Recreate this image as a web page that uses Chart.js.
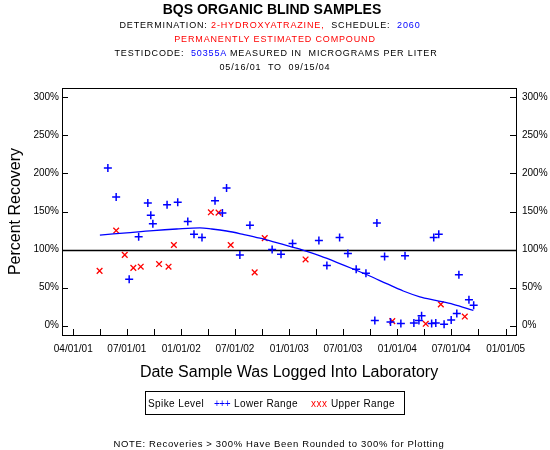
<!DOCTYPE html>
<html>
<head>
<meta charset="utf-8">
<script src="https://cdn.jsdelivr.net/npm/chart.js@4/dist/chart.umd.min.js"></script>
<style>
  body { margin: 0; background: #fff; }
  #wrap { position: relative; width: 550px; height: 450px; font-family: "Liberation Sans", Arial, sans-serif; color: #000; }
  canvas { position: absolute; left: 0; top: 0; }
  .t { position: absolute; white-space: pre; line-height: 1; }
  .c { left: 0; width: 550px; text-align: center; }
  .h { font-size: 9px; letter-spacing: 0.85px; }
  .red { color: #ff0000; }
  .blue { color: #0000ff; }
  #legend { position: absolute; left: 145px; top: 391px; width: 260px; height: 24px; border: 1px solid #000; box-sizing: border-box; }
</style>
</head>
<body>
<div id="wrap">
  <canvas id="chart" width="550" height="450"></canvas>
  <div class="t c" style="top:2px;margin-left:-3px;font-size:14px;font-weight:bold;">BQS ORGANIC BLIND SAMPLES</div>
  <div class="t c h" style="top:21px;margin-left:-5px;">DETERMINATION: <span class="red">2-HYDROXYATRAZINE,</span>  SCHEDULE:  <span class="blue">2060</span></div>
  <div class="t c h red" style="top:35px;margin-left:0px;">PERMANENTLY ESTIMATED COMPOUND</div>
  <div class="t c h" style="top:49px;margin-left:1px;">TESTIDCODE:  <span class="blue">50355A</span> MEASURED IN  MICROGRAMS PER LITER</div>
  <div class="t c h" style="top:63px;margin-left:0px;">05/16/01  TO  09/15/04</div>
  <div id="legend"></div>
  <div class="t" style="left:148px;top:399px;font-size:10px;letter-spacing:0.4px;">Spike Level</div>
  <div class="t blue" style="left:214px;top:399px;font-size:10px;letter-spacing:-0.5px;">+++</div>
  <div class="t" style="left:234px;top:399px;font-size:10px;letter-spacing:0.4px;">Lower Range</div>
  <div class="t red" style="left:311px;top:399px;font-size:10px;letter-spacing:0.5px;">xxx</div>
  <div class="t" style="left:331px;top:399px;font-size:10px;letter-spacing:0.4px;">Upper Range</div>
  <div class="t c" style="top:439px;margin-left:4px;font-size:9.5px;letter-spacing:0.65px;">NOTE: Recoveries &gt; 300% Have Been Rounded to 300% for Plotting</div>
</div>
<script>
// Spike level: lower range (blue +)
const lowerDates = ['2001-04-28', '2001-05-26', '2001-07-09', '2001-08-10', '2001-09-10', '2001-09-20', '2001-09-27',
  '2001-11-14', '2001-12-20', '2002-01-23', '2002-02-13', '2002-03-12', '2002-04-25', '2002-05-20', '2002-06-03',
  '2002-07-18', '2002-08-21', '2002-11-04', '2002-12-04', '2003-01-12', '2003-04-11', '2003-05-08', '2003-06-20',
  '2003-07-18', '2003-08-15', '2003-09-17', '2003-10-17', '2003-10-24', '2003-11-19', '2003-12-09', '2004-01-13',
  '2004-01-27', '2004-02-26', '2004-03-14', '2004-03-23', '2004-04-26', '2004-05-03', '2004-05-10', '2004-05-20',
  '2004-06-07', '2004-07-01', '2004-07-20', '2004-07-27', '2004-08-30', '2004-09-15'];
const lowerValues = [207, 169, 61, 117, 161, 145, 134,
  159, 162, 137, 120, 116, 164, 148, 181,
  93, 132, 100, 94, 108, 112, 79, 116,
  95, 74, 69, 7, 135, 91, 5, 3,
  92, 3.5, 7, 13, 3, 116, 3.5, 120,
  2, 7.5, 16, 67, 34, 27];

// Spike level: upper range (red x)
const upperDates = ['2001-03-31', '2001-05-26', '2001-06-24', '2001-07-23', '2001-08-17', '2001-10-18', '2001-11-19',
  '2001-12-07', '2002-04-11', '2002-05-07', '2002-06-17', '2002-09-06', '2002-10-10', '2003-02-25', '2003-12-15',
  '2004-04-06', '2004-05-27', '2004-08-16'];
const upperValues = [72, 125, 93, 76, 77.5, 81, 77.5,
  106, 149, 148.5, 106, 70, 115, 87, 6,
  2.5, 28, 12];

// smoothed trend (blue curve)
const fitDates = ['2001-04-01', '2001-06-30', '2001-09-28', '2001-12-16', '2002-03-05', '2002-04-14', '2002-06-03',
  '2002-07-29', '2002-09-24', '2002-11-28', '2003-02-06', '2003-04-15', '2003-06-10', '2003-08-05', '2003-09-30',
  '2003-11-26', '2004-01-21', '2004-03-17', '2004-05-13', '2004-07-08', '2004-09-14'];
const fitValues = [119, 122, 125, 127, 128.4, 127, 124.4,
  120, 115, 108, 100.5, 91.6, 83.3, 74.5, 65.3,
  55.2, 45.6, 38, 33, 28, 20];

const refLine = 100;
const yTicks = [0, 50, 100, 150, 200, 250, 300];
const xTickDates = ['2001-01-01', '2001-04-01', '2001-07-01', '2001-10-01', '2002-01-01', '2002-04-01', '2002-07-01',
  '2002-10-01', '2003-01-01', '2003-04-01', '2003-07-01', '2003-10-01', '2004-01-01', '2004-04-01', '2004-07-01',
  '2004-10-01', '2005-01-01'];
const xTickLabels = ['04/01/01', '', '07/01/01', '', '01/01/02', '', '07/01/02',
  '', '01/01/03', '', '07/01/03', '', '01/01/04', '', '07/01/04',
  '', '01/01/05'];

const toMs = d => Date.parse(d + 'T00:00:00Z');
const pts = (dates, vals) => dates.map((d, i) => ({ x: toMs(d), y: vals[i] }));

Chart.defaults.font.family = '"Liberation Sans", Arial, sans-serif';
Chart.defaults.color = '#000';

// box round the plot, inward tick marks and the 100% line
const frame = {
  id: 'frame',
  beforeDatasetsDraw(chart) {
    const { ctx, chartArea: a, scales } = chart;
    const y = Math.round(scales.y.getPixelForValue(refLine)) + 0.5;
    ctx.save();
    ctx.strokeStyle = '#000';
    ctx.lineWidth = 1.5;
    ctx.beginPath();
    ctx.moveTo(a.left, y);
    ctx.lineTo(a.right, y);
    ctx.stroke();
    ctx.restore();
  },
  afterDraw(chart) {
    const { ctx, chartArea: a, scales } = chart;
    ctx.save();
    ctx.strokeStyle = '#000';
    ctx.lineWidth = 1;
    ctx.strokeRect(Math.round(a.left) + 0.5, Math.round(a.top) + 0.5, Math.round(a.right - a.left), Math.round(a.bottom - a.top));
    ctx.beginPath();
    scales.x.ticks.forEach(t => {
      const x = Math.round(scales.x.getPixelForValue(t.value)) + 0.5;
      ctx.moveTo(x, a.bottom);
      ctx.lineTo(x, a.bottom - 6);
    });
    yTicks.forEach(v => {
      const y = Math.round(scales.y.getPixelForValue(v)) + 0.5;
      ctx.moveTo(a.left, y);
      ctx.lineTo(a.left + 6, y);
      ctx.moveTo(a.right, y);
      ctx.lineTo(a.right - 6, y);
    });
    ctx.stroke();
    ctx.restore();
  }
};

const yAxis = (position, width, pad) => ({
  type: 'linear',
  position,
  min: -12.2,
  max: 312.2,
  afterBuildTicks: s => { s.ticks = yTicks.map(v => ({ value: v })); },
  afterFit: s => { s.width = width; },
  grid: { display: false, drawTicks: false },
  border: { display: false },
  ticks: { padding: pad, font: { size: 10 }, callback: v => v + '%' }
});

new Chart(document.getElementById('chart'), {
  type: 'scatter',
  data: {
    datasets: [
      {
        type: 'line',
        data: pts(fitDates, fitValues),
        borderColor: '#0000ff',
        borderWidth: 1.3,
        pointRadius: 0,
        cubicInterpolationMode: 'monotone',
        fill: false
      },
      {
        data: pts(lowerDates, lowerValues),
        pointStyle: 'cross',
        pointRadius: 4,
        borderColor: '#0000ff',
        borderWidth: 1.5
      },
      {
        data: pts(upperDates, upperValues),
        pointStyle: 'crossRot',
        pointRadius: 4,
        borderColor: '#ff0000',
        borderWidth: 1.3
      }
    ]
  },
  options: {
    responsive: false,
    animation: false,
    layout: { padding: { top: 88, left: 0, right: 0, bottom: 0 } },
    plugins: { legend: { display: false }, tooltip: { enabled: false } },
    scales: {
      x: {
        type: 'linear',
        min: toMs('2000-11-24'),
        max: toMs('2005-02-05'),
        afterBuildTicks: s => { s.ticks = xTickDates.map(d => ({ value: toMs(d) })); },
        afterFit: s => { s.height = 115; },
        grid: { display: false, drawTicks: false },
        border: { display: false },
        ticks: {
          autoSkip: false,
          maxRotation: 0,
          padding: 8,
          font: { size: 10 },
          callback: (v, i) => xTickLabels[i]
        },
        title: {
          display: true,
          text: 'Date Sample Was Logged Into Laboratory',
          font: { size: 16 },
          padding: { top: 0, bottom: 68 }
        }
      },
      y: Object.assign(yAxis('left', 62, 3), {
        title: { display: true, text: 'Percent Recovery', font: { size: 16 }, padding: { top: 5.5, bottom: 0 } }
      }),
      y2: yAxis('right', 34, 6)
    }
  },
  plugins: [frame]
});
</script>
</body>
</html>
